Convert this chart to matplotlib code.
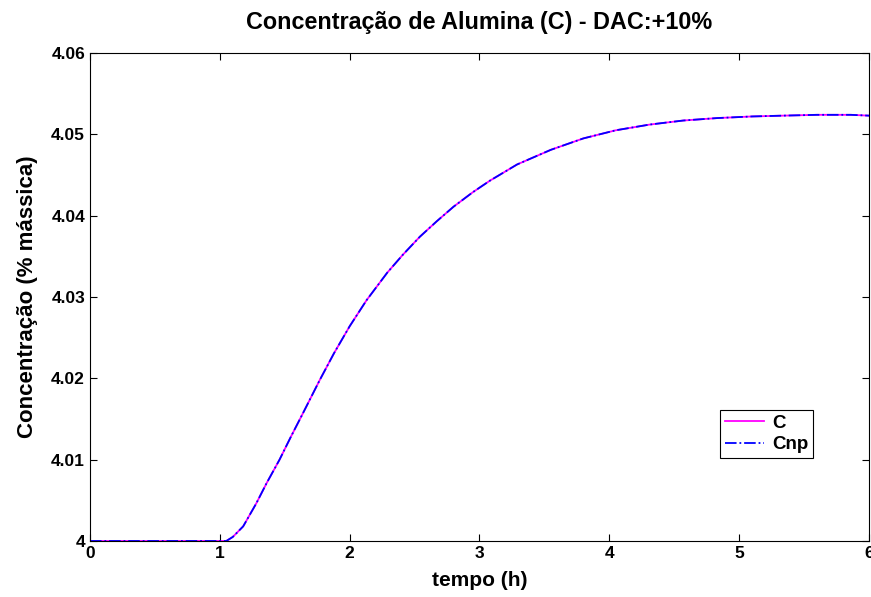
import matplotlib
matplotlib.use("Agg")
import matplotlib.pyplot as plt

# data (time in hours, concentration in % mass)
tempo = [0.0, 0.5, 1.0, 1.05, 1.10, 1.18, 1.28, 1.36, 1.46, 1.55, 1.64, 1.77, 1.88, 2.00,
         2.13, 2.29, 2.41, 2.54, 2.67, 2.80, 2.95, 3.08, 3.29, 3.55, 3.80, 4.05, 4.31,
         4.57, 4.83, 5.10, 5.34, 5.60, 5.86, 6.0]
C = [4.0, 4.0, 4.0, 4.0, 4.0005, 4.0018, 4.0046, 4.0071, 4.0100, 4.0129, 4.0157, 4.0198,
     4.0231, 4.0264, 4.0296, 4.0330, 4.0352, 4.0374, 4.0393, 4.0411, 4.0429, 4.0443,
     4.0463, 4.0481, 4.0495, 4.0505, 4.0512, 4.0517, 4.0520, 4.0522, 4.0523, 4.0524,
     4.0524, 4.0523]
Cnp = list(C)

title = "Concentração de Alumina (C) - DAC:+10%"
xlabel = "tempo (h)"
ylabel = "Concentração (% mássica)"
xticks = [0, 1, 2, 3, 4, 5, 6]
yticks = [4.0, 4.01, 4.02, 4.03, 4.04, 4.05, 4.06]
yticklabels = ["4", "4.01", "4.02", "4.03", "4.04", "4.05", "4.06"]

plt.rcParams['font.family'] = ['Liberation Sans', 'DejaVu Sans']
plt.rcParams['font.weight'] = 'bold'

fig = plt.figure(figsize=(8.71, 5.97), dpi=100)
ax = fig.add_axes([0.1033, 0.0938, 0.8944, 0.8174])
ax.plot(tempo, C, color='#ff00ff', linestyle='-', linewidth=1.3, label='C')
ax.plot(tempo, Cnp, color='#0000ff', linestyle='-.', linewidth=1.3, label='Cnp')
ax.set_xlim(0, 6)
ax.set_ylim(4.0, 4.06)
ax.set_xticks(xticks)
ax.set_xticklabels([str(t) for t in xticks])
ax.set_yticks(yticks)
ax.set_yticklabels(yticklabels)
ax.tick_params(direction='in', top=True, right=True, labelsize=12.5, length=5, width=0.8)
for lbl in ax.get_xticklabels() + ax.get_yticklabels():
    lbl.set_fontweight('bold')
for s in ax.spines.values():
    s.set_linewidth(0.8)
ax.set_title(title, fontsize=16.8, fontweight='bold', pad=17)
ax.set_xlabel(xlabel, fontsize=15, fontweight='bold', labelpad=7.5)
ax.set_ylabel(ylabel, fontsize=16, fontweight='bold', labelpad=9.5)
leg = ax.legend(loc='lower left', bbox_to_anchor=(0.809, 0.17), fancybox=False,
                edgecolor='black', framealpha=1, fontsize=13.5, handlelength=2.1,
                borderpad=0.25, labelspacing=0.25, handletextpad=0.4, borderaxespad=0)
leg.get_frame().set_linewidth(0.8)
for t in leg.get_texts():
    t.set_fontweight('bold')
fig.savefig('out.png', dpi=100)
